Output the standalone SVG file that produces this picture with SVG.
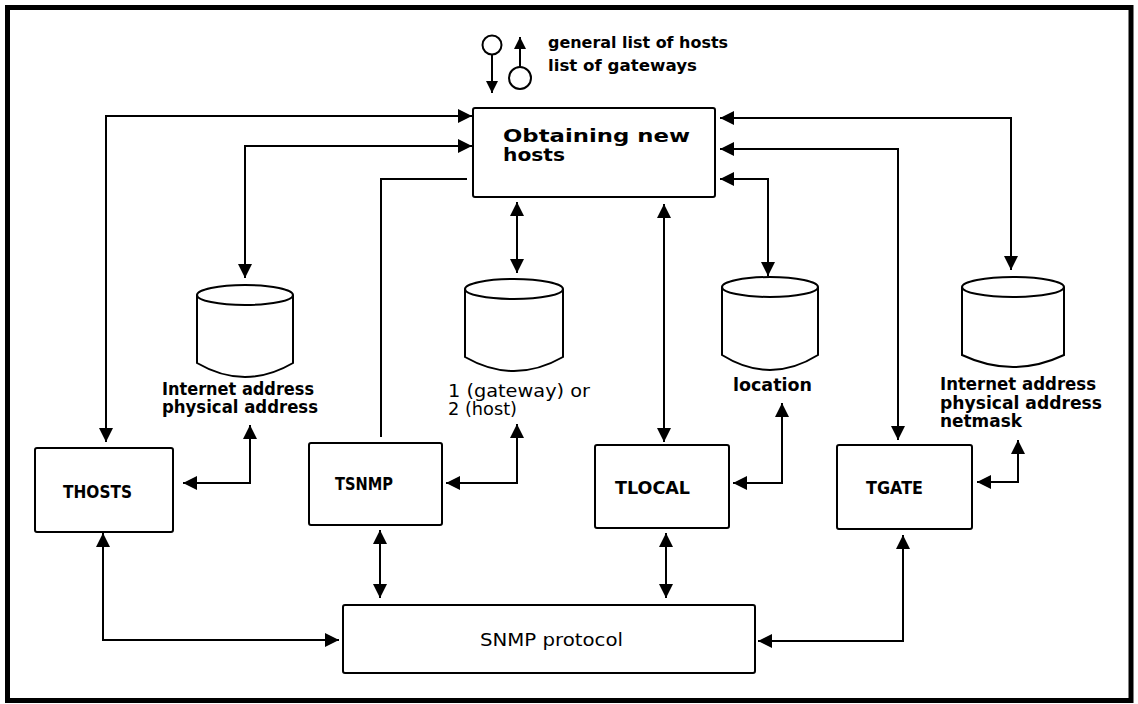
<svg xmlns="http://www.w3.org/2000/svg" width="1138" height="704" viewBox="0 0 1138 704">
  <style>
    .frame { fill: none; stroke: #000; stroke-width: 5; }
    .box { fill: #fff; stroke: #000; stroke-width: 2; }
    .cyl { fill: #fff; stroke: #000; stroke-width: 2; }
    .wire { fill: none; stroke: #000; stroke-width: 2; }
    .two { marker-start: url(#head); marker-end: url(#head); }
    .txt { font-family: "DejaVu Sans", "Liberation Sans", sans-serif; fill: #000; }
    .b { font-weight: bold; }
  </style>
  <defs>
    <marker id="head" viewBox="0 0 14 14" refX="14" refY="7" markerWidth="14" markerHeight="14" markerUnits="userSpaceOnUse" orient="auto-start-reverse">
      <path d="M0,0 L14,7 L0,14 z" fill="#000"/>
    </marker>
    <marker id="small" viewBox="0 0 12 12" refX="12" refY="6" markerWidth="12" markerHeight="12" markerUnits="userSpaceOnUse" orient="auto">
      <path d="M0,0 L12,6 L0,12 z" fill="#000"/>
    </marker>
  </defs>

  <rect class="frame" x="7.5" y="7.5" width="1123.5" height="693"/>

  <!-- legend -->
  <g id="legend">
    <circle cx="492" cy="45" r="9.5" fill="none" stroke="#000" stroke-width="2"/>
    <line x1="492" y1="55" x2="492" y2="93" stroke="#000" stroke-width="2" marker-end="url(#small)"/>
    <circle cx="520" cy="78" r="11" fill="none" stroke="#000" stroke-width="2"/>
    <line x1="520" y1="67" x2="520" y2="37" stroke="#000" stroke-width="2" marker-end="url(#small)"/>
    <text class="txt b" x="548" y="48" font-size="16" textLength="180" lengthAdjust="spacingAndGlyphs">general list of hosts</text>
    <text class="txt b" x="548" y="71" font-size="16" textLength="149" lengthAdjust="spacingAndGlyphs">list of gateways</text>
  </g>

  <!-- connectors -->
  <g id="connectors">
    <path class="wire two" d="M106,442 V116 H472"/>
    <path class="wire two" d="M245,278 V146 H472"/>
    <path class="wire" d="M381,437 V179 H467"/>
    <path class="wire two" d="M517,202 V273"/>
    <path class="wire two" d="M664,204 V442"/>
    <path class="wire two" d="M720,179 H768 V276"/>
    <path class="wire two" d="M720,118 H1011 V270"/>
    <path class="wire two" d="M720,149 H898 V440"/>
    <path class="wire two" d="M183,483 H250 V425"/>
    <path class="wire two" d="M446,483 H517 V424"/>
    <path class="wire two" d="M733,483 H782 V403"/>
    <path class="wire two" d="M977,482 H1018 V440"/>
    <path class="wire two" d="M103,533 V640 H339"/>
    <path class="wire two" d="M380,530 V598"/>
    <path class="wire two" d="M666,533 V598"/>
    <path class="wire two" d="M903,535 V641 H758"/>
  </g>

  <!-- process boxes -->
  <g id="obtaining">
    <rect class="box" x="473" y="108" width="242" height="89" rx="2"/>
    <text class="txt b" x="503" y="142" font-size="18" textLength="187" lengthAdjust="spacingAndGlyphs">Obtaining new</text>
    <text class="txt b" x="503" y="161" font-size="18" textLength="62" lengthAdjust="spacingAndGlyphs">hosts</text>
  </g>
  <g id="thosts">
    <rect class="box" x="35" y="448" width="138" height="84" rx="2"/>
    <text class="txt b" x="63" y="498" font-size="17" textLength="69" lengthAdjust="spacingAndGlyphs">THOSTS</text>
  </g>
  <g id="tsnmp">
    <rect class="box" x="309" y="443" width="133" height="82" rx="2"/>
    <text class="txt b" x="335" y="490" font-size="17" textLength="58" lengthAdjust="spacingAndGlyphs">TSNMP</text>
  </g>
  <g id="tlocal">
    <rect class="box" x="595" y="445" width="134" height="83" rx="2"/>
    <text class="txt b" x="615" y="494" font-size="17" textLength="75" lengthAdjust="spacingAndGlyphs">TLOCAL</text>
  </g>
  <g id="tgate">
    <rect class="box" x="837" y="445" width="135" height="84" rx="2"/>
    <text class="txt b" x="866" y="494" font-size="17" textLength="57" lengthAdjust="spacingAndGlyphs">TGATE</text>
  </g>
  <g id="snmp">
    <rect class="box" x="343" y="605" width="412" height="68" rx="2"/>
    <text class="txt" x="480" y="646" font-size="18" textLength="143" lengthAdjust="spacingAndGlyphs">SNMP protocol</text>
  </g>

  <!-- data stores -->
  <g id="store-hosts">
    <path class="cyl" d="M197,295 V363 Q245,391 293,363 V295"/>
    <ellipse class="cyl" cx="245" cy="295" rx="48" ry="10"/>
    <text class="txt b" x="162" y="395" font-size="17" textLength="152" lengthAdjust="spacingAndGlyphs">Internet address</text>
    <text class="txt b" x="162" y="413" font-size="17" textLength="156" lengthAdjust="spacingAndGlyphs">physical address</text>
  </g>
  <g id="store-type">
    <path class="cyl" d="M465,289 V357 Q514,385 563,357 V289"/>
    <ellipse class="cyl" cx="514" cy="289" rx="49" ry="10"/>
    <text class="txt" x="448" y="397" font-size="17" textLength="142" lengthAdjust="spacingAndGlyphs">1 (gateway) or</text>
    <text class="txt" x="448" y="415" font-size="17" textLength="69" lengthAdjust="spacingAndGlyphs">2 (host)</text>
  </g>
  <g id="store-location">
    <path class="cyl" d="M722,287 V355 Q770,385 818,355 V287"/>
    <ellipse class="cyl" cx="770" cy="287" rx="48" ry="10"/>
    <text class="txt b" x="733" y="391" font-size="17" textLength="79" lengthAdjust="spacingAndGlyphs">location</text>
  </g>
  <g id="store-gateways">
    <path class="cyl" d="M962,287 V355 Q1013,379 1064,355 V287"/>
    <ellipse class="cyl" cx="1013" cy="287" rx="51" ry="10"/>
    <text class="txt b" x="940" y="390" font-size="17" textLength="156" lengthAdjust="spacingAndGlyphs">Internet address</text>
    <text class="txt b" x="940" y="409" font-size="17" textLength="162" lengthAdjust="spacingAndGlyphs">physical address</text>
    <text class="txt b" x="940" y="427" font-size="17" textLength="82" lengthAdjust="spacingAndGlyphs">netmask</text>
  </g>
</svg>
